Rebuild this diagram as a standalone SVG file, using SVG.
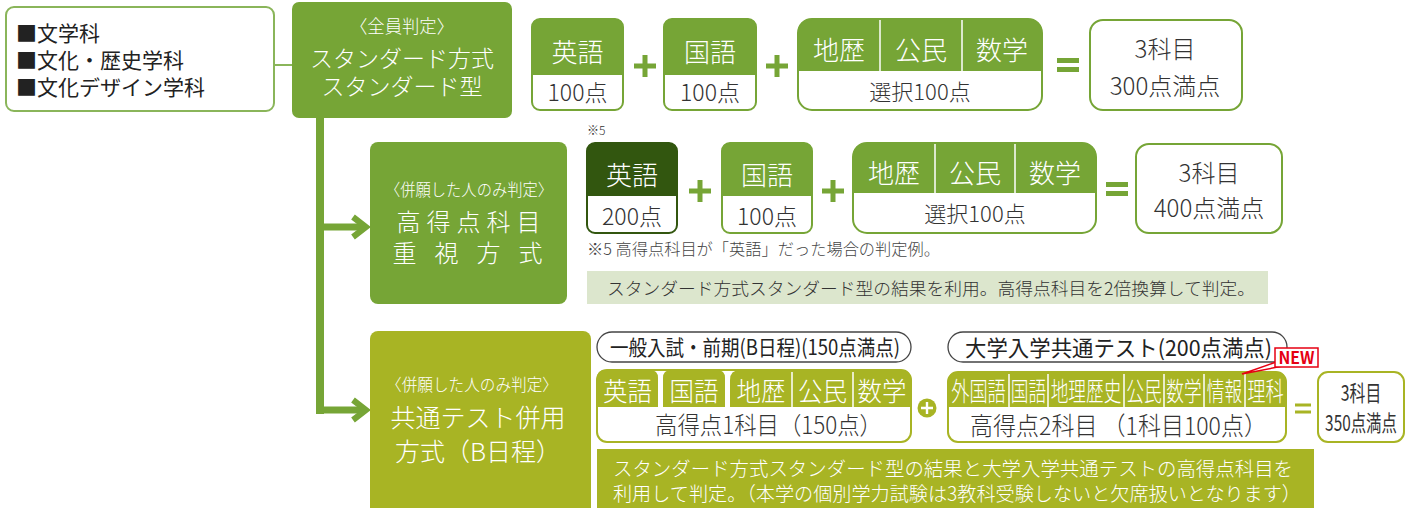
<svg xmlns="http://www.w3.org/2000/svg" width="1405" height="508" viewBox="0 0 1405 508">
<style>
text{font-family:"Noto Sans CJK JP","Noto Sans",sans-serif;font-weight:300;}
.w{fill:#fff;}
.d{fill:#333;}
.c{text-anchor:middle;}
.g{fill:#76a536;}
.o{fill:#a8b424;}
.bg{fill:#fff;stroke:#76a536;stroke-width:2;}
.bo{fill:#fff;stroke:#a8b424;stroke-width:2;}
.dv{stroke:#fff;stroke-width:1.5;}
.pill{fill:#fff;stroke:#444;stroke-width:1.3;}
</style>
<defs>
<path id="plus" d="M-11,-2.5H11V2.5H-11Z M-2.5,-11H2.5V11H-2.5Z"/>
<path id="eq" d="M-11,-7H11V-2H-11Z M-11,2H11V7H-11Z"/>
<path id="chev" d="M-16,-10 L-3,0 L-16,10" fill="none" stroke="#76a536" stroke-width="6"/>
</defs>

<g id="connectors">
<line x1="275" y1="65" x2="292" y2="65" stroke="#8ab55a" stroke-width="2"/>
<path d="M320,117 V414" stroke="#76a536" stroke-width="8" fill="none"/>
<path d="M316,227 H364 M316,410 H364" stroke="#76a536" stroke-width="7" fill="none"/>
<use href="#chev" x="369" y="227"/>
<use href="#chev" x="369" y="410"/>
</g>

<g id="node-departments">
<rect x="6" y="7" width="268" height="104" rx="8" fill="#fff" stroke="#8ab55a" stroke-width="2"/>
<text x="16" y="41" font-size="21" fill="#222" style="font-weight:400">■文学科</text>
<text x="16" y="68" font-size="21" fill="#222" style="font-weight:400">■文化・歴史学科</text>
<text x="16" y="95" font-size="21" fill="#222" style="font-weight:400">■文化デザイン学科</text>
</g>

<g id="node-standard">
<rect x="292" y="2" width="220" height="116" rx="7" class="g"/>
<text x="402" y="33" font-size="18" class="w c" textLength="104" lengthAdjust="spacingAndGlyphs">〈全員判定〉</text>
<text x="402" y="67" font-size="23" class="w c">スタンダード方式</text>
<text x="402" y="95" font-size="23" class="w c">スタンダード型</text>
</g>

<g id="row1">
<path d="M532,75 V27 Q532,19 540,19 H615 Q623,19 623,27 V75 Z" class="g"/>
<rect x="532" y="19" width="91" height="91" rx="8" fill="none" stroke="#76a536" stroke-width="2"/>
<text x="577.5" y="62" font-size="26" class="w c">英語</text>
<text x="577.5" y="101" font-size="23" class="d c">100点</text>
<use href="#plus" x="645" y="66" class="g"/>
<path d="M664,75 V27 Q664,19 672,19 H748 Q756,19 756,27 V75 Z" class="g"/>
<rect x="664" y="19" width="92" height="91" rx="8" fill="none" stroke="#76a536" stroke-width="2"/>
<text x="710" y="62" font-size="26" class="w c">国語</text>
<text x="710" y="101" font-size="23" class="d c">100点</text>
<use href="#plus" x="777" y="66" class="g"/>
<path d="M798,71 V33 Q798,19 812,19 H1028 Q1042,19 1042,33 V71 Z" class="g"/>
<rect x="798" y="19" width="244" height="91" rx="14" fill="none" stroke="#76a536" stroke-width="2"/>
<line x1="880" y1="20" x2="880" y2="71" class="dv"/>
<line x1="962" y1="20" x2="962" y2="71" class="dv"/>
<text x="839" y="60" font-size="26" class="w c">地歴</text>
<text x="921" y="60" font-size="26" class="w c">公民</text>
<text x="1002" y="60" font-size="26" class="w c">数学</text>
<text x="920" y="100" font-size="22" class="d c">選択100点</text>
<use href="#eq" x="1068" y="65" class="g"/>
<rect x="1090" y="20" width="152" height="90" rx="13" class="bg"/>
<text x="1165" y="58" font-size="24" class="d c">3科目</text>
<text x="1165" y="95" font-size="24" class="d c">300点満点</text>
</g>

<g id="node-highscore">
<rect x="370" y="142" width="197" height="162" rx="8" class="g"/>
<text x="469" y="196" font-size="16.5" class="w c" textLength="168" lengthAdjust="spacingAndGlyphs">〈併願した人のみ判定〉</text>
<text x="471.5" y="231" font-size="24" class="w c" letter-spacing="6">高得点科目</text>
<text x="476.5" y="262" font-size="24" class="w c" letter-spacing="18">重視方式</text>
</g>

<g id="row2">
<text x="587" y="135" font-size="12" class="d">※5</text>
<path d="M587,196 V151 Q587,143 595,143 H669 Q677,143 677,151 V196 Z" fill="#32560f"/>
<rect x="587" y="143" width="90" height="90" rx="8" fill="none" stroke="#32560f" stroke-width="2"/>
<text x="632" y="185" font-size="26" class="w c">英語</text>
<text x="632" y="225" font-size="23" class="d c">200点</text>
<use href="#plus" x="700" y="191" class="g"/>
<path d="M722,196 V151 Q722,143 730,143 H804 Q812,143 812,151 V196 Z" class="g"/>
<rect x="722" y="143" width="90" height="90" rx="8" fill="none" stroke="#76a536" stroke-width="2"/>
<text x="767" y="185" font-size="26" class="w c">国語</text>
<text x="767" y="225" font-size="23" class="d c">100点</text>
<use href="#plus" x="833" y="191" class="g"/>
<path d="M853,193 V157 Q853,143 867,143 H1082 Q1096,143 1096,157 V193 Z" class="g"/>
<rect x="853" y="143" width="243" height="90" rx="14" fill="none" stroke="#76a536" stroke-width="2"/>
<line x1="935" y1="144" x2="935" y2="193" class="dv"/>
<line x1="1015" y1="144" x2="1015" y2="193" class="dv"/>
<text x="894" y="183" font-size="26" class="w c">地歴</text>
<text x="975" y="183" font-size="26" class="w c">公民</text>
<text x="1055" y="183" font-size="26" class="w c">数学</text>
<text x="975" y="222" font-size="22" class="d c">選択100点</text>
<use href="#eq" x="1117" y="189" class="g"/>
<rect x="1136" y="144" width="146" height="89" rx="13" class="bg"/>
<text x="1209" y="182" font-size="24" class="d c">3科目</text>
<text x="1209" y="217" font-size="24" class="d c">400点満点</text>
<text x="587" y="255" font-size="15.5" fill="#444" textLength="353" lengthAdjust="spacingAndGlyphs">※5 高得点科目が「英語」だった場合の判定例。</text>
<rect x="587" y="271" width="681" height="33" fill="#dce6cd"/>
<text x="607" y="295" font-size="17.5" class="d" textLength="648" lengthAdjust="spacingAndGlyphs">スタンダード方式スタンダード型の結果を利用。高得点科目を2倍換算して判定。</text>
</g>

<g id="node-common">
<rect x="370" y="331" width="221" height="190" rx="8" class="o"/>
<text x="472" y="391" font-size="16.5" class="w c" textLength="172" lengthAdjust="spacingAndGlyphs">〈併願した人のみ判定〉</text>
<text x="478" y="427" font-size="25" class="w c">共通テスト併用</text>
<text x="478" y="461" font-size="25" class="w c">方式（B日程）</text>
</g>

<g id="row3">
<rect x="597" y="332" width="314" height="30" rx="15" class="pill"/>
<text x="610" y="355" font-size="21" fill="#222" textLength="290" lengthAdjust="spacingAndGlyphs" style="font-weight:400">一般入試・前期(B日程)(150点満点)</text>
<rect x="597" y="370" width="314" height="72" rx="10" class="bo"/>
<path d="M597,407 V378 Q597,370 605,370 H650 Q658,370 658,378 V407 Z" class="o"/>
<path d="M663,407 V378 Q663,370 671,370 H717 Q725,370 725,378 V407 Z" class="o"/>
<path d="M730,407 V380 Q730,370 740,370 H901 Q911,370 911,380 V407 Z" class="o"/>
<line x1="792" y1="372" x2="792" y2="407" class="dv"/>
<line x1="853" y1="372" x2="853" y2="407" class="dv"/>
<text font-size="26" class="w c" transform="translate(627.5,401) scale(0.94,1)">英語</text>
<text font-size="26" class="w c" transform="translate(694,401) scale(0.94,1)">国語</text>
<text font-size="26" class="w c" transform="translate(761,401) scale(0.94,1)">地歴</text>
<text font-size="26" class="w c" transform="translate(822.5,401) scale(0.94,1)">公民</text>
<text font-size="26" class="w c" transform="translate(882,401) scale(0.94,1)">数学</text>
<text x="655" y="434" font-size="24" class="d" textLength="227" lengthAdjust="spacingAndGlyphs">高得点1科目（150点）</text>
<circle cx="927" cy="408" r="9.5" class="o"/>
<path d="M921,406.8H933V409.2H921Z M925.8,402H928.2V414H925.8Z" fill="#fff"/>
<rect x="948" y="332" width="339" height="30" rx="15" class="pill"/>
<text x="965" y="356" font-size="22" fill="#222" textLength="307" lengthAdjust="spacingAndGlyphs" style="font-weight:400">大学入学共通テスト(200点満点)</text>
<rect x="948" y="372" width="338" height="70" rx="10" class="bo"/>
<path d="M948,407 V382 Q948,372 958,372 H1276 Q1286,372 1286,382 V407 Z" class="o"/>
<line x1="1009" y1="374" x2="1009" y2="407" class="dv"/>
<line x1="1048" y1="374" x2="1048" y2="407" class="dv"/>
<line x1="1124" y1="374" x2="1124" y2="407" class="dv"/>
<line x1="1164" y1="374" x2="1164" y2="407" class="dv"/>
<line x1="1204" y1="374" x2="1204" y2="407" class="dv"/>
<line x1="1245" y1="374" x2="1245" y2="407" class="dv"/>
<text font-size="26" class="w c" transform="translate(978.5,401) scale(0.7,1)">外国語</text>
<text font-size="26" class="w c" transform="translate(1028.5,401) scale(0.68,1)">国語</text>
<text font-size="26" class="w c" transform="translate(1086,401) scale(0.68,1)">地理歴史</text>
<text font-size="26" class="w c" transform="translate(1144,401) scale(0.68,1)">公民</text>
<text font-size="26" class="w c" transform="translate(1184,401) scale(0.68,1)">数学</text>
<text font-size="26" class="w c" transform="translate(1224.5,401) scale(0.68,1)">情報</text>
<text font-size="26" class="w c" transform="translate(1265.5,401) scale(0.7,1)">理科</text>
<text x="970" y="435" font-size="25" class="d" textLength="297" lengthAdjust="spacingAndGlyphs">高得点2科目 （1科目100点）</text>
<g id="new-badge">
<path d="M1283,366 L1242,374 L1279,361" fill="#fff" stroke="#e60012" stroke-width="1.5"/>
<rect x="1275" y="348" width="43" height="19" fill="#fff" stroke="#e60012" stroke-width="1.5"/>
<text x="1296.5" y="364" font-size="17" fill="#e60012" class="c" textLength="36" lengthAdjust="spacingAndGlyphs" style="font-weight:700">NEW</text>
</g>
<path d="M1295,403.5H1311V406.5H1295Z M1295,410.5H1311V413.5H1295Z" class="o"/>
<rect x="1318" y="372" width="86" height="70" rx="10" class="bo"/>
<text font-size="22" class="d c" transform="translate(1361,401) scale(0.72,1)" style="font-weight:400">3科目</text>
<text font-size="22" class="d c" transform="translate(1361,431) scale(0.7,1)" style="font-weight:400">350点満点</text>
<rect x="597" y="449" width="717" height="59" class="o"/>
<text x="613" y="476" font-size="19.5" class="w" textLength="680" lengthAdjust="spacingAndGlyphs">スタンダード方式スタンダード型の結果と大学入学共通テストの高得点科目を</text>
<text x="613" y="501" font-size="19.5" class="w" textLength="688" lengthAdjust="spacingAndGlyphs">利用して判定。（本学の個別学力試験は3教科受験しないと欠席扱いとなります）</text>
</g>
</svg>
